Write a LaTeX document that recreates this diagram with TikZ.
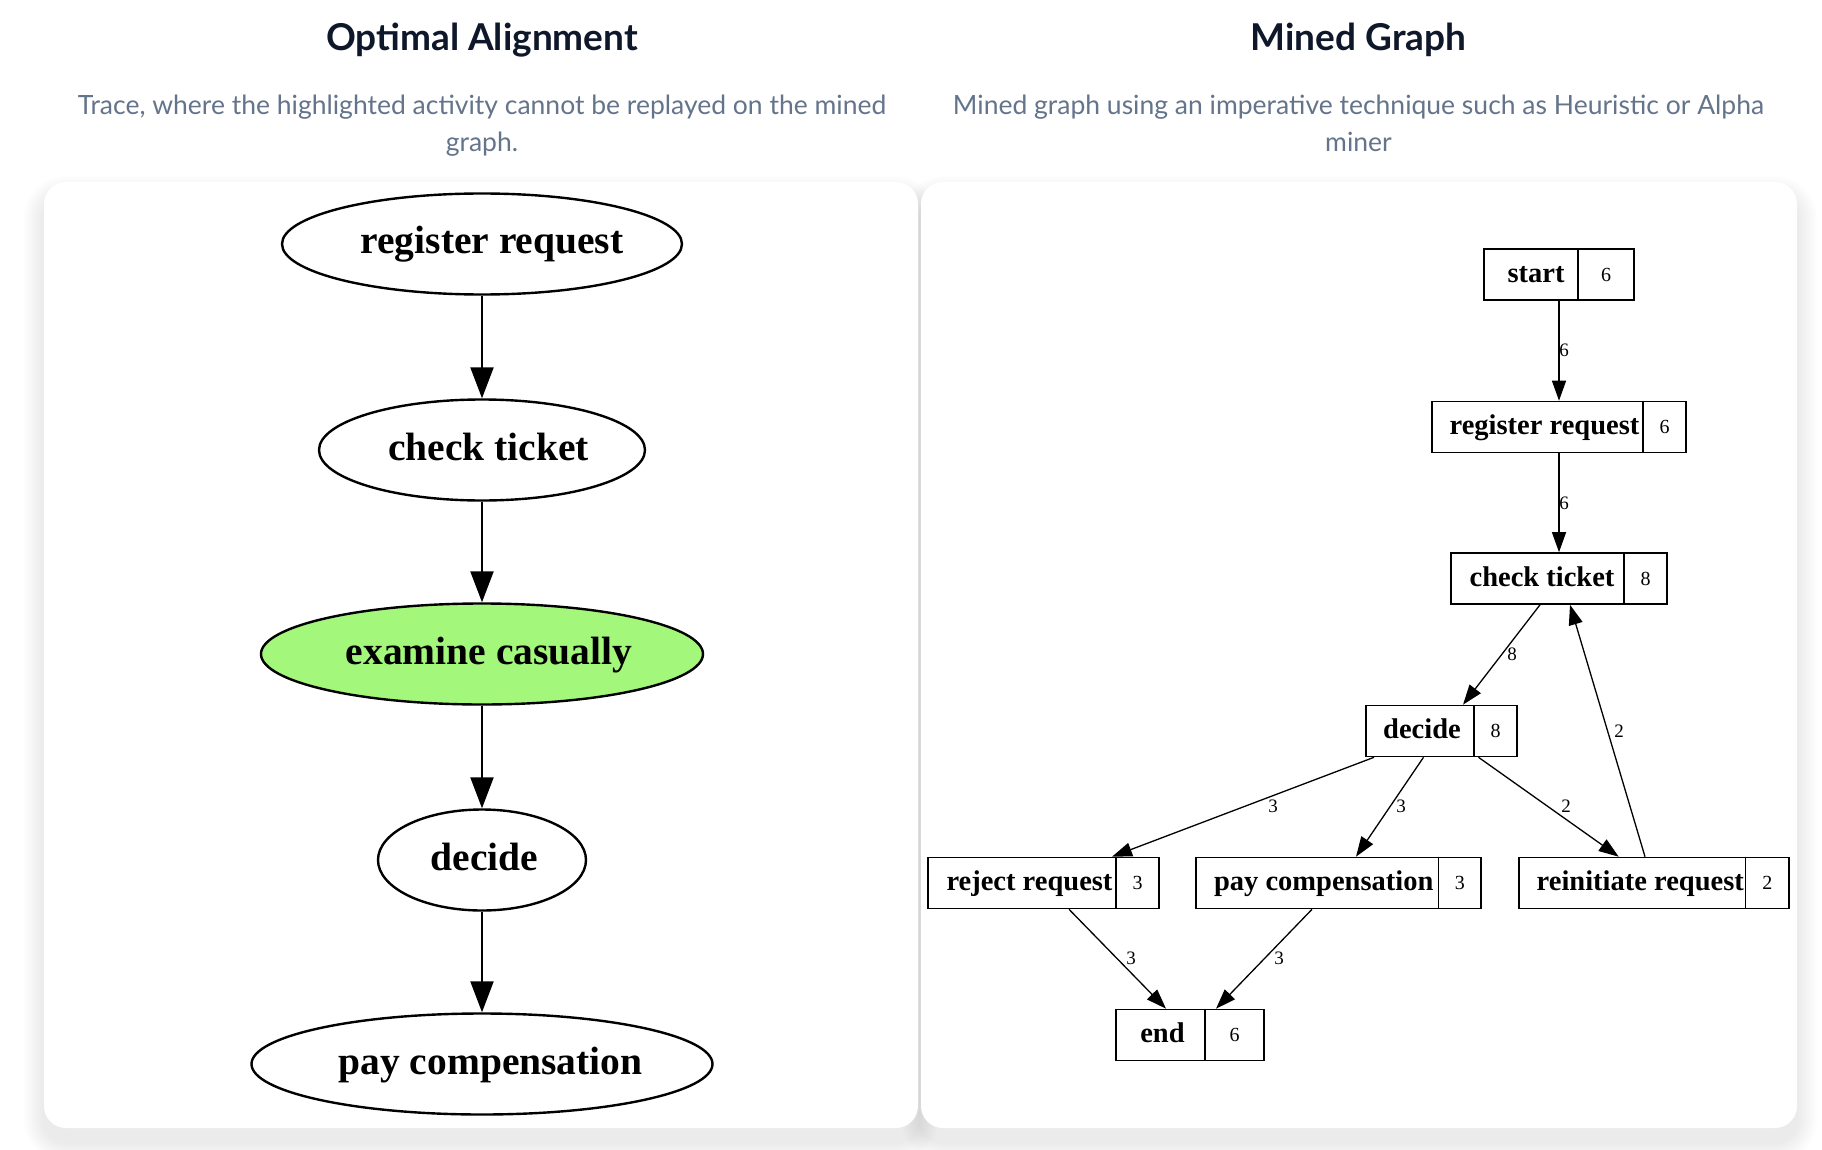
\documentclass[tikz,border=0pt]{standalone}
\usepackage{fontspec}
\setmainfont{Liberation Serif}
\newfontfamily\uifont{Lato}
\usetikzlibrary{arrows.meta,shapes.geometric,calc}

\definecolor{titlecol}{HTML}{0F172A}
\definecolor{subcol}{HTML}{64748B}
\definecolor{hilite}{HTML}{A3F77B}

% name, west, east, divider, cy, label, count, label x-shift
\newcommand\minedrec[8]{%
  \pgfmathsetmacro\mrcx{(#2+#3)/2}%
  \pgfmathsetmacro\mrw{#3-#2}%
  \pgfmathsetmacro\mrlx{(#2+#4)/2+#8}%
  \pgfmathsetmacro\mrnx{(#4+#3)/2}%
  \node[record, minimum width=\mrw pt] (#1) at (\mrcx,#5) {};
  \draw[recline] (#1.north -| #4,0) -- (#1.south -| #4,0);
  \node[reclabel] (#1-label) at (\mrlx,#5) {#6};
  \node[recnum] (#1-count) at (\mrnx,#5) {#7};
}

\begin{document}
\begin{tikzpicture}[x=1pt,y=-1pt,
  title/.style={font=\uifont\bfseries\fontsize{37}{44}\selectfont, text=titlecol},
  subtitle/.style={font=\uifont\fontsize{26.5}{37}\selectfont, text=subcol, align=center},
  trace/.style={ellipse, draw, line width=2.4pt, minimum height=101pt, inner sep=0pt},
  tracetext/.style={font=\bfseries\fontsize{39.5}{44}\selectfont, inner sep=0pt,
    text height=30pt, text depth=10pt},
  traceedge/.style={line width=2.2pt, -{Triangle[length=31pt,width=23pt]}},
  record/.style={draw, line width=1.6pt, minimum height=51pt, inner sep=0pt},
  recline/.style={line width=1.6pt},
  reclabel/.style={font=\bfseries\fontsize{28.5}{32}\selectfont, inner sep=0pt,
    text height=22pt, text depth=7pt},
  recnum/.style={font=\fontsize{20}{24}\selectfont, inner sep=0pt},
  minededge/.style={line width=1.3pt, -{Triangle[length=20pt,width=14pt]}},
  elabel/.style={font=\fontsize{19}{22}\selectfont, inner sep=0pt},
  card/.style={fill=white, rounded corners=22pt},
]
\useasboundingbox (0,0) rectangle (1822,1150);
\fill[white] (0,0) rectangle (1822,1150);

% card shadows
\foreach \k in {1,...,10}{
  \pgfmathsetmacro\sr{22+2*\k}
  \fill[black, opacity=0.007, rounded corners=\sr pt]
    (44-2*\k, 196-2*\k) rectangle (918+2*\k, 1142+2*\k);
  \fill[black, opacity=0.007, rounded corners=\sr pt]
    (921-2*\k, 196-2*\k) rectangle (1797+2*\k, 1142+2*\k);
}
\fill[card] (44,182) rectangle (918,1128);
\fill[card] (921,182) rectangle (1797,1128);

% headings
\node[title] (t1) at (482,40) {Optimal Alignment};
\node[title] (t2) at (1358.5,40) {Mined Graph};
\node[subtitle] (s1) at (482,126) {Trace, where the highlighted activity cannot be replayed on the mined\\graph.};
\node[subtitle] (s2) at (1358.5,123.5) {Mined graph using an imperative technique such as Heuristic or Alpha\\miner};

% optimal alignment trace
\node[trace, minimum width=400pt] (a1) at (482,244) {};
\node[trace, minimum width=326pt] (a2) at (482,450) {};
\node[trace, minimum width=442pt, fill=hilite] (a3) at (482,654) {};
\node[trace, minimum width=208pt] (a4) at (482,860) {};
\node[trace, minimum width=461pt] (a5) at (482,1064) {};
\node[tracetext] (a1-text) at ([xshift=10pt]a1.center) {register request};
\node[tracetext] (a2-text) at ([xshift=6.5pt]a2.center) {check ticket};
\node[tracetext] (a3-text) at ([xshift=7pt]a3.center) {examine casually};
\node[tracetext] (a4-text) at ([xshift=2.5pt]a4.center) {decide};
\node[tracetext] (a5-text) at ([xshift=8.5pt]a5.center) {pay compensation};
\draw[traceedge] (a1.south) -- (a2.north);
\draw[traceedge] (a2.south) -- (a3.north);
\draw[traceedge] (a3.south) -- (a4.north);
\draw[traceedge] (a4.south) -- (a5.north);

% mined graph
\minedrec{start}{1484}{1634}{1578}{274.5}{start}{6}{5}
\minedrec{register}{1432}{1686}{1643}{427}{register request}{6}{7}
\minedrec{check}{1451}{1667}{1624}{578.5}{check ticket}{8}{4.5}
\minedrec{decide}{1366}{1517}{1474}{731}{decide}{8}{2}
\minedrec{reject}{928}{1159}{1116}{883}{reject request}{3}{7.5}
\minedrec{pay}{1196}{1481}{1438.5}{883}{pay compensation}{3}{6.5}
\minedrec{reinit}{1519}{1789}{1745.5}{883}{reinitiate request}{2}{8}
\minedrec{end}{1116}{1264}{1205}{1035}{end}{6}{2}

\draw[minededge] (start.south) -- (register.north);
\draw[minededge] (register.south) -- (check.north);
\draw[minededge] ([xshift=-19pt]check.south) -- ([xshift=21.5pt]decide.north);
\draw[minededge] ([xshift=-67.5pt]decide.south) -- ([xshift=68.5pt]reject.north);
\draw[minededge] ([xshift=-18pt]decide.south) -- ([xshift=17.5pt]pay.north);
\draw[minededge] ([xshift=37pt]decide.south) -- ([xshift=-35.3pt]reinit.north);
\draw[minededge] ([xshift=-9pt]reinit.north) -- ([xshift=11pt]check.south);
\draw[minededge] ([xshift=25.5pt]reject.south) -- ([xshift=-24pt]end.north);
\draw[minededge] ([xshift=-26.5pt]pay.south) -- ([xshift=26pt]end.north);

\node[elabel] (l1) at (1564,350) {6};
\node[elabel] (l2) at (1564,503) {6};
\node[elabel] (l3) at (1512,654) {8};
\node[elabel] (l4) at (1619,731) {2};
\node[elabel] (l5) at (1273,806) {3};
\node[elabel] (l6) at (1401,806) {3};
\node[elabel] (l7) at (1566,806) {2};
\node[elabel] (l8) at (1131,958) {3};
\node[elabel] (l9) at (1279,958) {3};
\end{tikzpicture}
\end{document}
